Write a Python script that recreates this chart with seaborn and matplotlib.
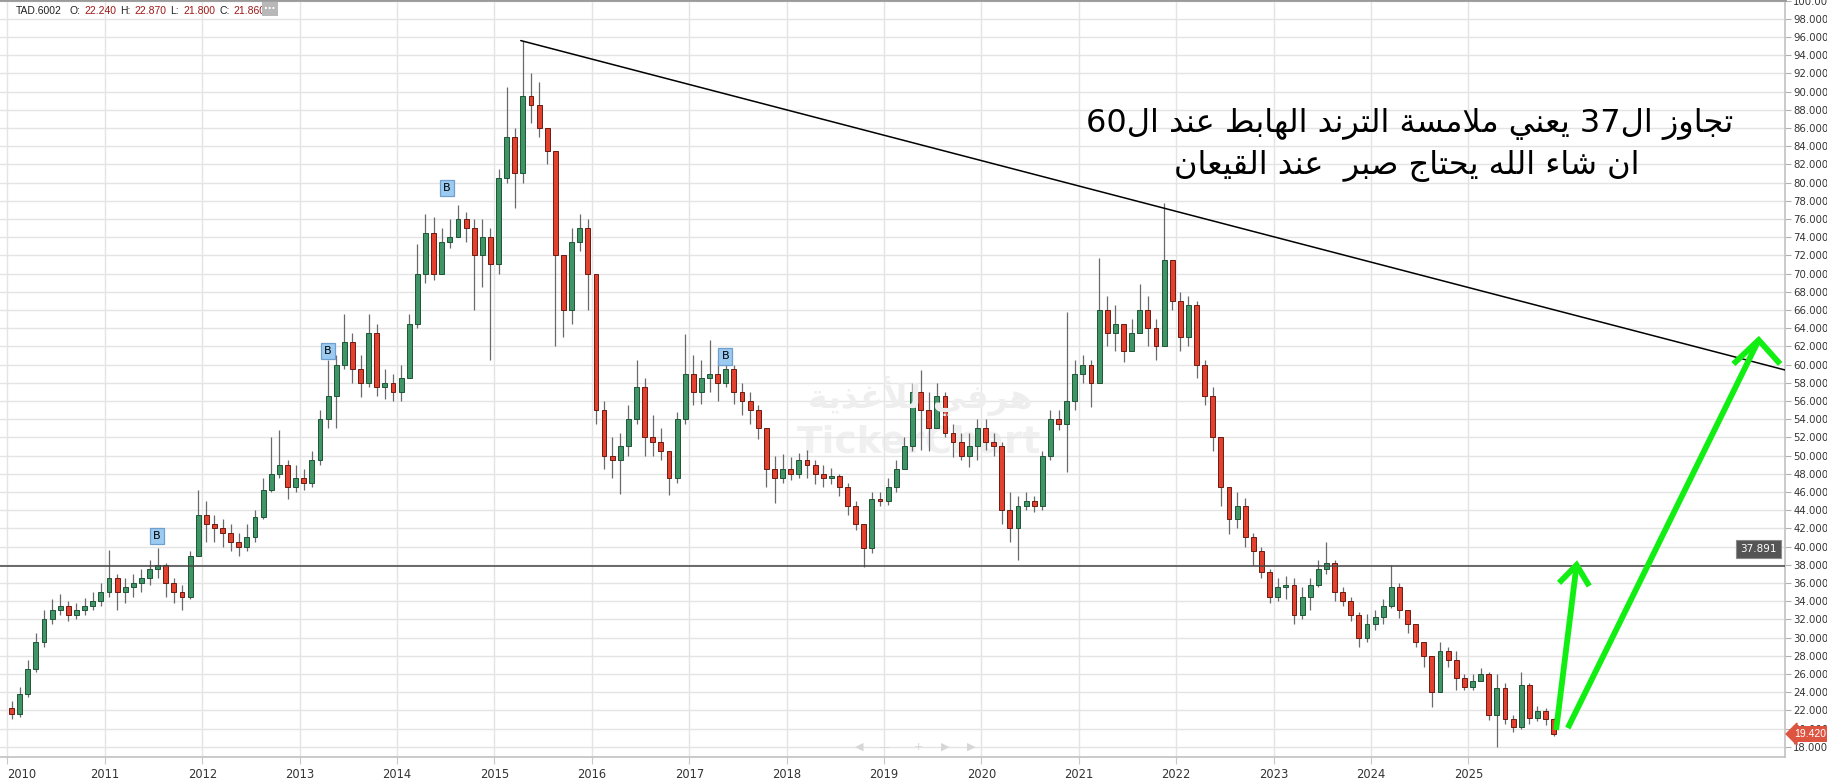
import re
import numpy as np
import pandas as pd
import matplotlib
matplotlib.use("Agg")
import matplotlib.pyplot as plt
import seaborn as sns

sns.set_theme(style="white")
plt.rcParams['font.family'] = ['DejaVu Sans']

# monthly candles, Jan 2010 .. Nov 2025 (open = previous close)
first_open = 22.2
close = [21.6, 23.8, 26.5, 29.5, 32.0, 33.0, 33.5, 32.5, 33.0, 33.5, 34.0, 35.0,
         36.5, 35.0, 35.5, 36.0, 36.5, 37.5, 38.0, 36.0, 35.0, 34.5, 39.0, 43.5,
         42.5, 42.0, 41.5, 40.5, 40.0, 41.0, 43.2, 46.2, 48.0, 49.0, 46.5, 47.5,
         47.0, 49.5, 54.0, 56.5, 60.0, 62.5, 59.5, 58.0, 63.5, 57.5, 58.0, 57.0,
         58.5, 64.5, 70.0, 74.5, 70.0, 73.5, 74.0, 76.0, 75.0, 72.0, 74.0, 71.0,
         80.5, 85.0, 81.0, 89.5, 88.5, 86.0, 83.5, 72.0, 66.0, 73.5, 75.0, 70.0,
         55.0, 50.0, 49.5, 51.0, 54.0, 57.5, 52.0, 51.5, 50.5, 47.5, 54.0, 59.0,
         57.0, 58.5, 59.0, 58.0, 59.5, 57.0, 56.0, 55.0, 53.0, 48.5, 47.5, 48.5,
         48.0, 49.5, 49.0, 48.0, 47.5, 47.8, 46.5, 44.5, 42.5, 39.8, 45.2, 45.0,
         46.5, 48.5, 51.0, 57.0, 55.0, 53.0, 56.5, 52.5, 51.5, 50.0, 51.0, 53.0,
         51.5, 51.0, 44.0, 42.0, 44.5, 45.0, 44.5, 50.0, 54.0, 53.5, 56.0, 59.0,
         60.0, 58.0, 66.0, 63.5, 64.5, 61.5, 63.5, 66.0, 64.0, 62.0, 71.5, 67.0,
         63.0, 66.5, 60.0, 56.5, 52.0, 46.5, 43.0, 44.5, 41.0, 39.5, 37.2, 34.5,
         35.5, 35.8, 32.5, 34.5, 35.8, 37.5, 38.2, 35.0, 34.0, 32.5, 30.0, 31.5,
         32.3, 33.5, 35.5, 33.0, 31.5, 29.5, 28.0, 24.0, 28.5, 27.5, 25.5, 24.6,
         25.2, 26.0, 21.5, 24.5, 21.0, 20.2, 24.8, 21.2, 21.9, 21.0, 19.42]
high = [23.0, 24.6, 27.5, 30.5, 33.0, 34.2, 34.8, 34.0, 33.8, 34.3, 35.0, 36.0,
        39.6, 37.0, 36.5, 37.0, 37.5, 38.5, 39.8, 38.2, 36.5, 35.8, 39.5, 46.2,
        45.0, 43.5, 43.0, 42.5, 41.5, 42.5, 44.0, 47.5, 52.0, 52.8, 49.5, 49.0,
        48.5, 50.5, 55.0, 60.5, 61.0, 65.6, 63.5, 61.0, 65.6, 64.5, 59.5, 59.0,
        60.0, 65.5, 73.3, 76.5, 76.2, 75.0, 76.0, 77.5, 76.8, 76.0, 76.0, 75.0,
        81.5, 90.5, 86.0, 95.6, 92.0, 91.0, 86.0, 83.0, 72.0, 75.0, 76.5, 76.0,
        70.0, 56.0, 52.0, 52.5, 55.5, 60.5, 58.5, 54.5, 53.0, 50.5, 54.8, 63.4,
        61.0, 60.5, 62.7, 60.5, 61.0, 60.0, 58.0, 57.0, 55.5, 52.5, 50.0, 50.2,
        49.8, 50.3, 50.6, 49.5, 49.0, 48.6, 48.0, 47.0, 45.0, 42.5, 46.0, 46.0,
        47.5, 49.5, 52.0, 58.0, 59.4, 57.0, 58.0, 57.0, 53.5, 52.5, 52.5, 54.0,
        54.0, 52.5, 51.5, 46.0, 45.5, 46.0, 45.5, 50.5, 55.0, 55.0, 65.8, 60.5,
        61.0, 60.5, 71.7, 67.5, 66.5, 64.5, 65.0, 68.8, 67.5, 65.0, 77.7, 71.5,
        68.0, 67.5, 67.0, 60.5, 57.5, 52.0, 45.5, 46.0, 45.3, 41.5, 40.0, 37.5,
        36.5, 36.8, 36.5, 35.5, 36.5, 38.5, 40.5, 38.5, 35.5, 34.5, 32.8, 32.6,
        33.0, 34.2, 38.0, 36.0, 33.0, 31.5, 29.5, 27.5, 29.5, 29.0, 28.5, 26.0,
        26.0, 26.6, 26.2, 26.0, 25.0, 21.5, 26.2, 25.0, 22.5, 22.2, 21.2]
low = [21.0, 21.3, 23.5, 26.2, 29.0, 31.5, 32.5, 31.8, 32.0, 32.5, 33.0, 33.5,
       34.5, 33.0, 33.8, 34.5, 35.0, 35.8, 36.5, 34.5, 33.8, 33.0, 34.2, 39.0,
       40.5, 40.5, 40.0, 39.5, 39.0, 39.5, 40.5, 43.0, 46.0, 47.5, 45.2, 46.0,
       46.2, 46.5, 49.0, 53.0, 53.0, 59.5, 58.0, 56.4, 57.5, 56.5, 56.2, 56.0,
       56.0, 58.5, 64.0, 69.0, 69.3, 71.5, 72.8, 74.5, 73.5, 66.0, 68.5, 60.5,
       70.0, 80.0, 77.2, 80.0, 86.5, 85.0, 82.0, 62.0, 63.0, 64.5, 72.5, 66.0,
       53.5, 48.5, 47.5, 45.8, 50.0, 53.5, 50.0, 50.0, 49.5, 45.7, 47.0, 53.5,
       55.5, 55.7, 57.0, 56.0, 57.5, 55.7, 54.5, 53.5, 51.8, 46.5, 44.8, 47.0,
       47.3, 47.5, 47.5, 46.9, 46.5, 46.9, 45.5, 43.5, 41.8, 37.8, 39.3, 44.5,
       44.6, 46.0, 48.5, 50.5, 50.6, 50.5, 53.0, 52.0, 49.8, 49.5, 48.7, 49.5,
       50.6, 50.0, 42.5, 40.5, 38.5, 44.0, 43.8, 44.0, 49.5, 52.8, 48.2, 55.0,
       58.0, 55.3, 58.0, 62.0, 61.5, 60.3, 61.5, 63.5, 62.0, 60.5, 62.0, 66.0,
       61.5, 62.0, 58.5, 55.5, 50.5, 44.5, 41.4, 42.0, 40.0, 38.0, 36.5, 33.8,
       34.0, 34.2, 31.5, 32.0, 33.0, 35.5, 37.0, 34.0, 33.5, 31.8, 29.0, 29.5,
       30.8, 31.5, 33.2, 32.2, 30.5, 29.0, 26.8, 22.4, 24.0, 26.8, 24.2, 24.2,
       24.2, 25.2, 20.9, 18.0, 20.5, 19.6, 20.0, 20.5, 20.8, 20.4, 19.2]

years = list(range(2010, 2026))
support_level = 37.891
last_price = 19.42
trend_x = [2015.27, 2028.25]
trend_y = [95.6, 59.4]
# buy markers (year, price)
b_x = [2011.535, 2013.29, 2014.51, 2017.37]
b_y = [41.15, 61.5, 79.4, 60.9]
# green target arrows: shaft start, tip, two head ends
arrow1 = [(2025.90, 19.84), (2026.11, 37.97), (2025.93, 36.0), (2026.24, 35.66)]
arrow2 = [(2026.02, 20.05), (2027.98, 62.69), (2027.72, 60.06), (2028.20, 60.06)]

note_1 = "تجاوز ال37 يعني ملامسة الترند الهابط عند ال60"
note_2 = "ان شاء الله يحتاج صبر  عند القيعان"
watermark = "هرفي للأغذية"

# --- minimal arabic shaping (presentation forms) + visual order ---
FORMS = {
    'ا': ('\uFE8D', '\uFE8E', None, None), 'أ': ('\uFE83', '\uFE84', None, None),
    'ب': ('\uFE8F', '\uFE90', '\uFE91', '\uFE92'), 'ت': ('\uFE95', '\uFE96', '\uFE97', '\uFE98'),
    'ة': ('\uFE93', '\uFE94', None, None), 'ج': ('\uFE9D', '\uFE9E', '\uFE9F', '\uFEA0'),
    'ح': ('\uFEA1', '\uFEA2', '\uFEA3', '\uFEA4'), 'د': ('\uFEA9', '\uFEAA', None, None),
    'ذ': ('\uFEAB', '\uFEAC', None, None), 'ر': ('\uFEAD', '\uFEAE', None, None),
    'ز': ('\uFEAF', '\uFEB0', None, None), 'س': ('\uFEB1', '\uFEB2', '\uFEB3', '\uFEB4'),
    'ش': ('\uFEB5', '\uFEB6', '\uFEB7', '\uFEB8'), 'ص': ('\uFEB9', '\uFEBA', '\uFEBB', '\uFEBC'),
    'ط': ('\uFEC1', '\uFEC2', '\uFEC3', '\uFEC4'), 'ع': ('\uFEC9', '\uFECA', '\uFECB', '\uFECC'),
    'غ': ('\uFECD', '\uFECE', '\uFECF', '\uFED0'), 'ف': ('\uFED1', '\uFED2', '\uFED3', '\uFED4'),
    'ق': ('\uFED5', '\uFED6', '\uFED7', '\uFED8'), 'ل': ('\uFEDD', '\uFEDE', '\uFEDF', '\uFEE0'),
    'م': ('\uFEE1', '\uFEE2', '\uFEE3', '\uFEE4'), 'ن': ('\uFEE5', '\uFEE6', '\uFEE7', '\uFEE8'),
    'ه': ('\uFEE9', '\uFEEA', '\uFEEB', '\uFEEC'), 'و': ('\uFEED', '\uFEEE', None, None),
    'ي': ('\uFEF1', '\uFEF2', '\uFEF3', '\uFEF4'), 'ء': ('\uFE80', None, None, None),
}
LAM_ALEF = {'ا': ('\uFEFB', '\uFEFC'), 'أ': ('\uFEF7', '\uFEF8')}


def arabic(text):
    toks, i = [], 0
    while i < len(text):
        c = text[i]
        if c == 'ل' and i + 1 < len(text) and text[i + 1] in LAM_ALEF:
            toks.append(('LA', text[i + 1]))
            i += 2
        else:
            toks.append(('C', c))
            i += 1

    def joins_left(t):   # can connect to the following letter
        return t[0] == 'C' and t[1] in FORMS and FORMS[t[1]][2] is not None

    def joining(t):
        return t[0] == 'LA' or (t[1] in FORMS and FORMS[t[1]][1] is not None)

    out = []
    for k, t in enumerate(toks):
        prev_j = k > 0 and joins_left(toks[k - 1]) and joining(t)
        if t[0] == 'LA':
            out.append(LAM_ALEF[t[1]][1 if prev_j else 0])
            continue
        c = t[1]
        if c not in FORMS:
            out.append(c)
            continue
        iso, fin, ini, med = FORMS[c]
        next_j = joins_left(t) and k + 1 < len(toks) and joining(toks[k + 1])
        if prev_j and next_j:
            out.append(med)
        elif prev_j:
            out.append(fin)
        elif next_j:
            out.append(ini)
        else:
            out.append(iso)
    vis = ''.join(out)[::-1]
    return re.sub(r'[0-9]+', lambda m: m.group(0)[::-1], vis)


# --- frame ---
dates = pd.date_range("2010-01-01", periods=len(close), freq="MS")
df = pd.DataFrame({"close": close, "high": high, "low": low}, index=dates)
df["open"] = [first_open] + close[:-1]
df["x"] = df.index.year + (df.index.month - 0.5) / 12
df["high"] = df[["high", "open", "close"]].max(axis=1)
df["low"] = df[["low", "open", "close"]].min(axis=1)
up = df["close"] >= df["open"]
body = (df["close"] - df["open"]).where((df["close"] - df["open"]).abs() > 0.2,
                                         np.where(up, 0.2, -0.2))

W, H = 1827, 779
fig = plt.figure(figsize=(W / 100, H / 100), dpi=100)
ax = fig.add_axes([0, 1 - 757 / H, 1785 / W, 757 / H])
ax.set_xlim(2009.923, 2028.25)
ax.set_ylim(16.87, 100.06)

ax.set_yticks(np.arange(18, 101, 2))
ax.set_yticklabels([f"{v:.3f}" for v in np.arange(18, 101, 2)])
ax.yaxis.tick_right()
ax.set_xticks(years)
ax.set_xticklabels([str(y) for y in years])
ax.tick_params(axis="y", right=True, length=4, width=0.8, color="#b0b0b0", pad=2,
               labelsize=7.3, labelcolor="#333333")
ax.tick_params(axis="x", bottom=True, length=5, width=0.8, color="#c8c8c8", pad=3,
               labelsize=8.3, labelcolor="#333333")
for lab in ax.get_xticklabels():
    lab.set_family(["Liberation Sans Narrow", "DejaVu Sans"])
ax.get_xticklabels()[0].set_ha("left")
ax.grid(True, color="#e4e4e4", lw=1)
ax.set_axisbelow(True)
ax.spines["left"].set_visible(False)
ax.spines["top"].set_color("#9a9a9a")
ax.spines["top"].set_linewidth(2)
ax.spines["right"].set_color("#c4c4c4")
ax.spines["bottom"].set_color("#c4c4c4")

# watermark
fig.text(920 / W, 1 - 396 / H, arabic(watermark), fontsize=24, fontweight="bold",
         color="#eeeeee", ha="center", va="center", zorder=0)
ax.text(0.515, 0.415, "TickerChart", transform=ax.transAxes, fontsize=27,
        fontweight="bold", color="#f0f0f0", ha="center", va="center", zorder=0.5)

# candles
ax.vlines(df["x"], df["low"], df["high"], color="#6a6a6a", lw=0.9, zorder=2)
ax.bar(df["x"], body, bottom=df["open"], width=0.05,
       color=np.where(up, "#3f9566", "#e3412d"),
       edgecolor=np.where(up, "#1f5536", "#6a1c12"), linewidth=0.7, zorder=3)

# support and trend
ax.axhline(support_level, color="#444444", lw=1.1, zorder=4)
sns.lineplot(x=trend_x, y=trend_y, ax=ax, color="black", lw=1.1, zorder=4)

for bx, by in zip(b_x, b_y):
    ax.text(bx, by, "B", fontsize=8, ha="center", va="center", color="black", zorder=6,
            bbox=dict(boxstyle="square,pad=0.3", fc="#9ccbf2", ec="#6f9fcc", lw=0.9))

for arr in (arrow1, arrow2):
    (sx, sy), (tx, ty), (lx, ly), (rx, ry) = arr
    ax.plot([sx, tx], [sy, ty], color="#11ee11", lw=4.2, solid_capstyle="butt", zorder=5)
    ax.plot([lx, tx, rx], [ly, ty, ry], color="#11ee11", lw=4.2,
            solid_capstyle="butt", solid_joinstyle="miter", zorder=5)

# notes
fig.text(1410 / W, 1 - 124 / H, arabic(note_1), fontsize=23, ha="center", va="center",
         color="black")
fig.text(1407 / W, 1 - 166 / H, arabic(note_2), fontsize=23, ha="center", va="center",
         color="black")

# price tags
fig.text(1777 / W, 1 - 549 / H, f"{support_level:.3f}", fontsize=7.5, color="white",
         ha="right", va="center",
         bbox=dict(boxstyle="square,pad=0.4", fc="#555555", ec="#8a8a8a", lw=0.8))
fig.text(1794 / W, 1 - 734 / H, f"{last_price:.3f}", fontsize=7.5, color="white",
         ha="left", va="center", family=["Liberation Sans", "DejaVu Sans"],
         bbox=dict(boxstyle="larrow,pad=0.22", fc="#dd5440", ec="#dd5440"))

# header
hdr = [(16, "TAD.6002", "#222222"), (69, "O:", "#222222"), (84, "22.240", "#a01818"),
       (120, "H:", "#222222"), (134, "22.870", "#a01818"), (170, "L:", "#222222"),
       (183, "21.800", "#a01818"), (219, "C:", "#222222"), (233, "21.860", "#a01818")]
for hx, txt, col in hdr:
    fig.text(hx / W, 1 - 11 / H, txt, fontsize=7.5, color=col, ha="left", va="center",
             family=["Liberation Sans", "DejaVu Sans"])
fig.text(270 / W, 1 - 9 / H, "···", fontsize=7, color="white", ha="center", va="center",
         fontweight="bold", bbox=dict(boxstyle="square,pad=0.2", fc="#b8b8b8", ec="none"))

# navigation widget (faint)
for nx, sym in [(859, "◀"), (884, "—"), (918, "+"), (945, "▶"), (971, "▶")]:
    fig.text(nx / W, 1 - 747 / H, sym, fontsize=8, color="#d6d6d6", ha="center", va="center")

fig.savefig("out.png", dpi=100)
